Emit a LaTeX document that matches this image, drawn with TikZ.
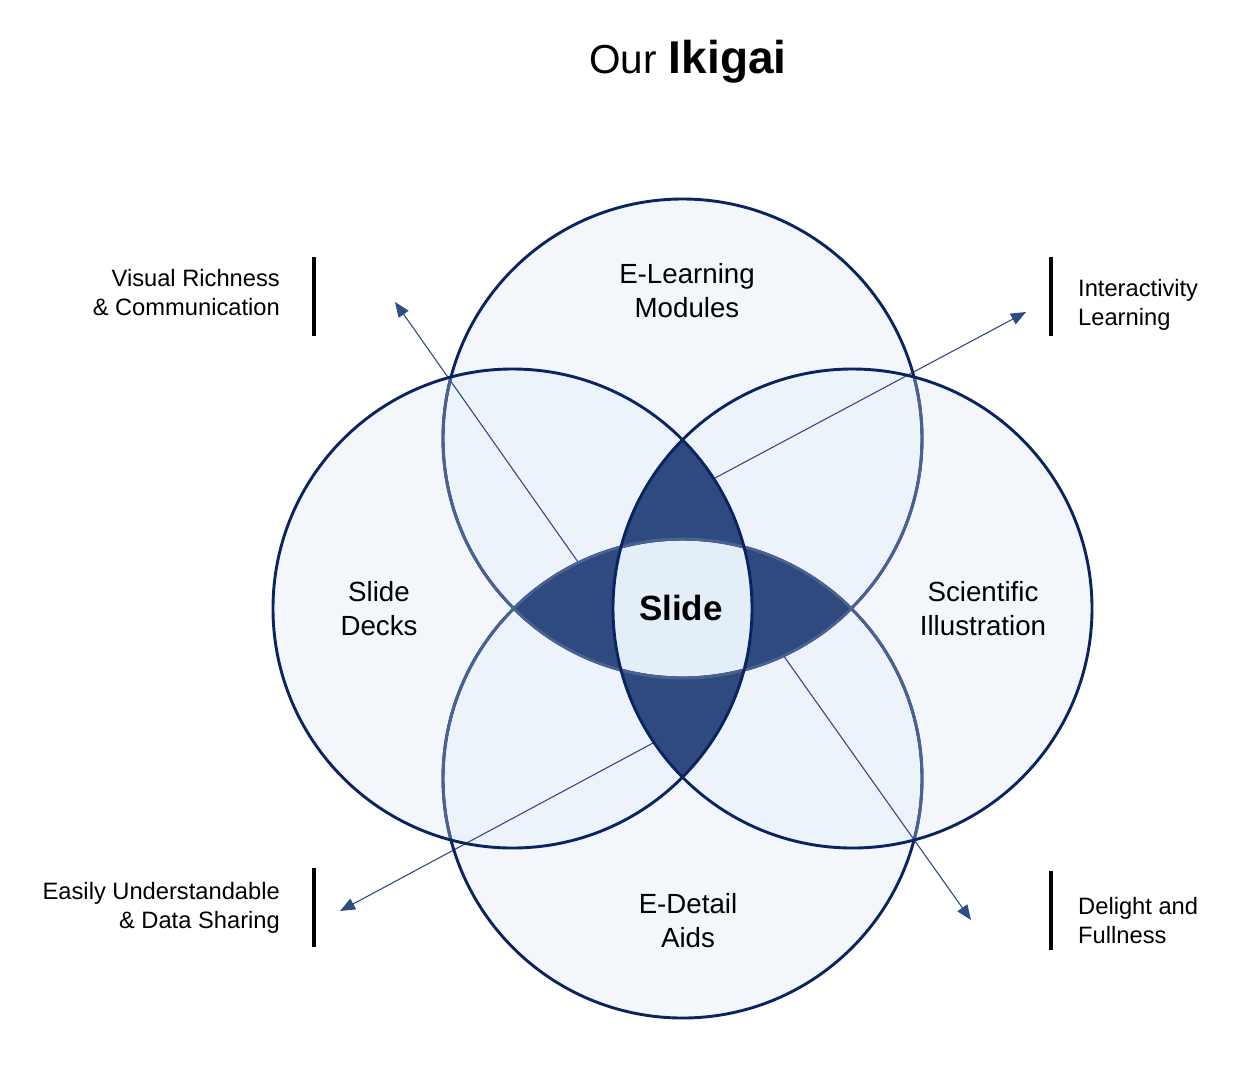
\documentclass[tikz,border=0pt]{standalone}
\usepackage{fontspec}
\setmainfont{Liberation Sans}
\usetikzlibrary{arrows.meta}
\definecolor{fillone}{HTML}{F3F7FC}
\definecolor{filltwo}{HTML}{ECF3FB}
\definecolor{fillfour}{HTML}{E4EEF8}
\definecolor{petal}{HTML}{2E4A7E}
\definecolor{ringdark}{HTML}{0A2462}
\definecolor{ringlight}{HTML}{4A6192}
\definecolor{arrowc}{HTML}{304C84}
\begin{document}
\begin{tikzpicture}[x=1pt,y=-1pt,
  ring/.style={draw=ringdark,line width=2.9pt},
  ringsoft/.style={draw=ringlight,line width=2.9pt},
  arrowline/.style={draw=arrowc,line width=1.1pt,-{Triangle[length=15pt,width=12pt]}},
  sidebar/.style={draw=black,line width=4pt},
  sidelabel/.style={inner sep=0pt,font=\fontsize{23.7}{29.3}\selectfont},
  ringlabel/.style={inner sep=0pt,font=\fontsize{27.7}{34}\selectfont}]
\useasboundingbox (0,0) rectangle (1249,1080);
\fill[white] (0,0) rectangle (1249,1080);
\def\cT{(682.5,438.5) circle[radius=239.5pt]}
\def\cB{(682.5,778.5) circle[radius=239.5pt]}
\def\cL{(512.5,608.5) circle[radius=239.5pt]}
\def\cR{(852.5,608.5) circle[radius=239.5pt]}
% single fills
\fill[fillone] \cT; \fill[fillone] \cB; \fill[fillone] \cL; \fill[fillone] \cR;
% pairwise overlaps
\begin{scope}\clip \cT; \fill[filltwo] \cL; \fill[filltwo] \cR; \fill[filltwo] \cB; \end{scope}
\begin{scope}\clip \cB; \fill[filltwo] \cL; \fill[filltwo] \cR; \end{scope}
\begin{scope}\clip \cL; \fill[filltwo] \cR; \end{scope}
% triple overlaps
\begin{scope}\clip \cL; \clip \cR; \fill[petal] \cT; \fill[petal] \cB; \end{scope}
\begin{scope}\clip \cT; \clip \cB; \fill[petal] \cL; \fill[petal] \cR; \end{scope}
% quadruple overlap
\begin{scope}\clip \cT; \clip \cB; \clip \cL; \fill[fillfour] \cR; \end{scope}
% arrows
\coordinate (a1s) at (578,562); \coordinate (a1e) at (395,302);
\coordinate (a2s) at (715,478); \coordinate (a2e) at (1026,312);
\coordinate (a3s) at (653,743); \coordinate (a3e) at (340,911);
\coordinate (a4s) at (783,655); \coordinate (a4e) at (971,920);
\draw[arrowline] (a1s) -- (a1e);
\draw[arrowline] (a2s) -- (a2e);
\draw[arrowline] (a3s) -- (a3e);
\draw[arrowline] (a4s) -- (a4e);
% outlines
\draw[ring] \cT; \draw[ring] \cB;
\begin{scope}\clip \cL; \draw[ringsoft] \cT; \draw[ringsoft] \cB; \end{scope}
\begin{scope}\clip \cR; \draw[ringsoft] \cT; \draw[ringsoft] \cB; \end{scope}
\draw[ring] \cL; \draw[ring] \cR;
% title
\node[inner sep=0pt,anchor=base] (title) at (688,73)
  {{\fontsize{40.5}{48}\selectfont Our\hspace{12pt}}{\fontsize{46}{55}\selectfont\bfseries Ikigai}};
% ring labels
\node[ringlabel,anchor=base] (elearn) at (687,283)
  {\begin{tabular}[t]{@{}c@{}}E-Learning\\Modules\end{tabular}};
\node[ringlabel,anchor=base] (decks) at (379,601)
  {\begin{tabular}[t]{@{}c@{}}Slide\\Decks\end{tabular}};
\node[ringlabel,anchor=base] (sci) at (983,601)
  {\begin{tabular}[t]{@{}c@{}}Scientific\\Illustration\end{tabular}};
\node[ringlabel,anchor=base] (edetail) at (688,913)
  {\begin{tabular}[t]{@{}c@{}}E-Detail\\Aids\end{tabular}};
\node[inner sep=0pt,anchor=base,font=\fontsize{35}{42}\selectfont\bfseries] (slide) at (681,620.5) {Slide};
% side labels
\node[sidelabel,anchor=base east] (vr) at (280,286)
  {\begin{tabular}[t]{@{}r@{}}Visual Richness\\\& Communication\end{tabular}};
\node[sidelabel,anchor=base west] (il) at (1078,296.5)
  {\begin{tabular}[t]{@{}l@{}}Interactivity\\Learning\end{tabular}};
\node[sidelabel,anchor=base east] (eu) at (280,899.5)
  {\begin{tabular}[t]{@{}r@{}}Easily Understandable\\\& Data Sharing\end{tabular}};
\node[sidelabel,anchor=base west] (df) at (1078,914)
  {\begin{tabular}[t]{@{}l@{}}Delight and\\Fullness\end{tabular}};
% side bars
\coordinate (b1t) at (314,257); \coordinate (b1b) at (314,336);
\coordinate (b2t) at (1051,257); \coordinate (b2b) at (1051,336);
\coordinate (b3t) at (314,868); \coordinate (b3b) at (314,947);
\coordinate (b4t) at (1051,871); \coordinate (b4b) at (1051,950);
\draw[sidebar] (b1t) -- (b1b);
\draw[sidebar] (b2t) -- (b2b);
\draw[sidebar] (b3t) -- (b3b);
\draw[sidebar] (b4t) -- (b4b);
\end{tikzpicture}
\end{document}
